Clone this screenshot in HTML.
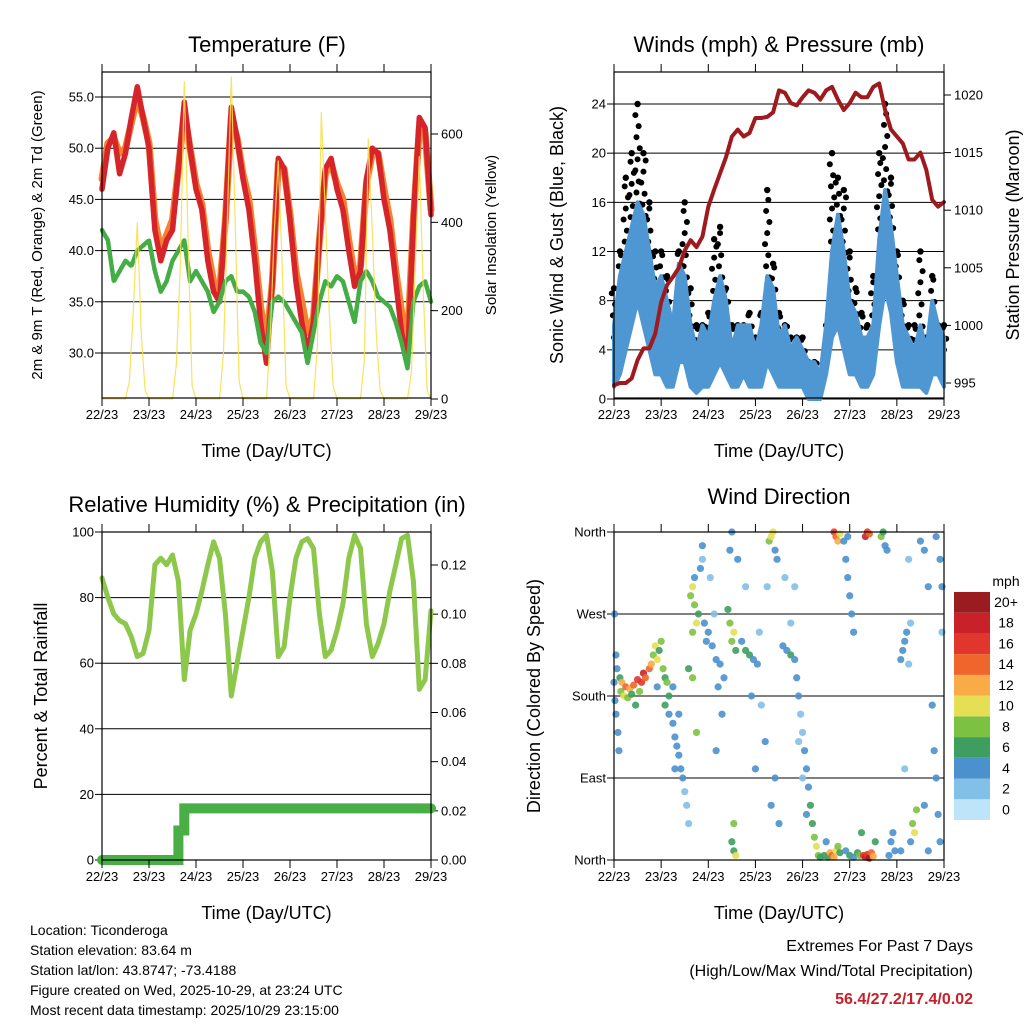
<!DOCTYPE html>
<html><head><meta charset="utf-8"><style>
html,body{margin:0;padding:0;background:#fff}
svg{display:block;font-family:"Liberation Sans",sans-serif}
</style></head><body>
<svg id="s" width="1024" height="1024" viewBox="0 0 1024 1024" xmlns="http://www.w3.org/2000/svg"></svg>
<script>
// ---- data (3-hourly, t = 0..168 h) ----
const dayLabels=["22/23","23/23","24/23","25/23","26/23","27/23","28/23","29/23"];
const temp2m=[46,50,51.5,47.5,49.5,53,56,53,50,42,39,41,42,48,54.5,50,46,44,39,36,35,43,54,51,47,44,39,33,29,37,49,48,43,37,33,30,33,41,48,49,46,44,40,36.5,38,47,50,49.5,45,42,37,32,29,43,53,52,43.5];
const temp9m=[47,50.5,51,49.5,50,52.5,55,53,50.5,43,40,41.5,43,48,53.5,50,46.5,44.5,40,37,36,43,53,51,47.5,45,40,34.5,31,37,48.5,48,43.5,38,35,32,33.5,41,47.5,48.5,46.5,45,41,37.5,38.5,46.5,49.5,49.5,46,43,38,34,31,43,52,51.5,44];
const dewpt=[42,41,37,38,39,38.5,40,40.5,41,38,36,37,39,40,41,37,38,37,36,34,35,37,37.5,36,36,35.5,34,31,30,35,35.5,35,34,33,32,29,32,35,37,36.5,37.5,37,35,33,37,38,37,35.5,35,34.5,33,31,28.5,35,36.5,37,35];
// solar, 2-hourly
const solar=[0,0,0,0,0,0,0,40,200,400,150,20,0,0,0,0,0,0,0,80,300,720,350,30,0,0,0,0,0,0,0,100,400,730,400,40,0,0,0,0,0,0,0,150,380,540,300,30,0,0,0,0,0,0,0,120,650,420,200,30,0,0,0,0,0,0,0,90,590,380,150,20,0,0,0,0,0,0,0,60,300,550,250,20,0];
const windHigh=[6,10,12,14,16,15,12,9,10,8,6,11,10,6,4,6,5,8,10,8,4,6,6,6,4,6,10,9,5,6,4,5,4,3,3,2,6,12,15,12,8,7,5,5,6,13,17,14,10,6,5,4,6,4,8,6,5];
const windLow=[1,2,4,6,8,6,4,2,2,1,1,3,3,1,0.5,1,1,2,3,2,1,1,2,1,1,1,3,2,1,1,1,1,1,0,0,0,2,5,6,4,2,2,1,1,2,6,9,7,3,1,1,1,1,0.5,2,2,1];
const gust=[9,12,18,20,24,20,16,12,12,10,6,12,16,9,6,6,7,13,14,9,6,6,6,7,5,7,17,11,7,6,5,5,5,3,3,2,6,20,18,17,12,9,7,6,10,20,24,18,12,8,6,6,12,5,10,6,6];
const pressure=[994.8,995,995,995.4,997,998,998,999.3,1002,1003.5,1004.2,1005,1006.5,1007.4,1006.8,1007.7,1010.3,1011.8,1013.2,1014.6,1016.4,1017,1016.4,1016.7,1018,1018,1018.1,1018.5,1020.4,1020.2,1019.3,1019.1,1019.8,1020.4,1020.2,1019.6,1020.4,1020.7,1019.6,1018.7,1019.3,1020.2,1019.8,1019.8,1020.7,1021,1018.7,1017,1016.4,1015.8,1014.4,1014.4,1015,1013.5,1010.9,1010.3,1010.7];
const rh=[86,80,75,73,72,68,62,63,70,90,92,90,93,85,55,70,75,82,90,97,92,75,50,60,70,80,92,97,99,88,62,65,80,92,97,98,95,75,62,64,70,78,92,99,95,72,62,66,72,82,90,98,99,85,52,55,76];
const precip=[0,0,0,0,0,0,0,0,0,0,0,0,0,0.012,0.021,0.021,0.021,0.021,0.021,0.021,0.021,0.021,0.021,0.021,0.021,0.021,0.021,0.021,0.021,0.021,0.021,0.021,0.021,0.021,0.021,0.021,0.021,0.021,0.021,0.021,0.021,0.021,0.021,0.021,0.021,0.021,0.021,0.021,0.021,0.021,0.021,0.021,0.021,0.021,0.021,0.021,0.021];
const dirT=[0,0.5,1,1.5,1,2,2.5,0.3,3,3.5,4,6,8,10,12,14,15,16,18,19,5,7,9,11,13,20,21,22,24,25,26,27,28,23,22,26,28,30,31,32,33,34,35,36,37,31,33,38,30,39,40,41,42,40,43,41,44,45,45,38,40,42,46,48,50,52,54,56,47,51,53,55,49,52,58,59,60,61,62,60,61,62,61,59,60,63,65,67,69,71,73,67,70,75,77,74,72,78,79,80,81,82,83,80,82,84,86,88,90,92,93,94,95,96,97,98,99,100,101,102,103,104,90,92,87,94,96,98,105,107,109,110,111,112,113,114,115,108,112,113,114,115,117,118,119,120,121,122,118,120,122,124,125,119,127,128,129,130,131,132,128,129,130,126,133,136,137,138,140,141,142,139,143,146,147,148,149,150,151,148,146,150,152,153,154,151,156,158,160,162,163,164,165,166,167,166,160,158,167,164];
const dirV=[195,175,160,210,225,140,120,270,200,185,195,190,188,192,198,195,205,200,210,215,180,178,182,170,185,225,235,220,240,210,200,195,180,230,190,170,160,150,135,125,115,100,90,75,60,100,160,40,190,290,300,280,260,250,270,310,320,345,330,210,200,140,260,250,235,220,215,200,240,270,190,160,310,120,275,260,240,250,230,20,10,5,40,340,360,330,240,230,225,220,215,300,180,170,130,250,100,300,350,355,360,340,330,60,90,40,235,230,225,220,200,180,160,140,120,100,80,60,40,25,15,5,260,300,310,130,90,50,3,5,3,8,5,3,10,15,8,20,360,355,350,358,350,330,310,290,270,250,10,5,3,8,5,355,5,3,6,2,8,4,355,360,358,30,20,355,360,345,5,20,30,340,10,220,230,240,250,215,260,100,10,330,40,30,55,20,350,340,300,170,120,90,50,20,300,330,10,60,250,355];
const dirS=[4,4,3,4,3,3,3,3,6,8,12,14,12,14,16,15,18,14,13,11,9,7,6,6,8,8,9,10,7,8,6,7,6,5,4,6,4,4,4,3,4,4,3,2,2,4,4,2,4,8,9,7,9,7,6,4,3,3,2,5,7,7,4,4,3,4,3,4,3,2,4,3,2,4,6,7,7,9,6,6,6,10,7,4,4,3,4,5,6,4,3,2,3,2,3,2,3,2,8,9,10,4,3,3,3,3,4,4,5,4,3,3,2,2,3,3,4,5,6,7,10,8,2,2,2,2,2,3,6,5,6,12,14,12,10,7,6,4,16,14,12,10,4,4,3,3,3,4,4,5,4,6,8,3,16,18,16,20,14,12,18,16,14,6,6,8,6,4,4,4,3,3,4,3,4,3,4,2,2,2,3,2,8,9,7,4,4,3,3,3,3,3,4,4,4,3,3,3,2,4];
const speedColors=["#bde4f8","#82c0e8","#4a91cd","#3d9e5f","#7dc143","#e4df55","#f8ab46","#ef652b","#e0362b","#c82129","#9b1c20"];
const cbLabels=["0","2","4","6","8","10","12","14","16","18","20+"];
const tempTicks=[30,35,40,45,50,55];
const solarTicks=[0,200,400,600];
const windTicks=[0,4,8,12,16,20,24];
const presTicks=[995,1000,1005,1010,1015,1020];
const rhTicks=[0,20,40,60,80,100];
const rainTicks=[0,0.02,0.04,0.06,0.08,0.10,0.12];
const dirTicks=[0,90,180,270,360];
const dirLabels=["North","East","South","West","North"];

const S=document.getElementById('s');const NS="http://www.w3.org/2000/svg";
function mk(tag,at,parent){const e=document.createElementNS(NS,tag);for(const k in at)e.setAttribute(k,at[k]);(parent||S).appendChild(e);return e;}
function txt(x,y,s,size,anchor,extra){const e=mk('text',Object.assign({x:x,y:y,'font-size':size,'text-anchor':anchor||'middle',fill:'#000'},extra||{}));e.textContent=s;return e;}
const hours=temp2m.map((_,i)=>i*3);
const solarHours=solar.map((_,i)=>i*2);

function panel(L,R,T,B){return {L,R,T,B,x:t=>L+t/168*(R-L)};}
function lin(d0,d1,p0,p1){return v=>p0+(v-d0)/(d1-d0)*(p1-p0);}
function frame(P,name){
  const r=mk('rect',{x:P.L,y:P.T,width:P.R-P.L,height:P.B-P.T,fill:'none',stroke:'#000','stroke-width':1.2});
  
  
  for(let d=0;d<8;d++){const x=P.L+d*(P.R-P.L)/7;
    const a=mk('line',{x1:x,x2:x,y1:P.B,y2:P.B+8,stroke:'#000','stroke-width':1});
    
    
    const b=mk('line',{x1:x,x2:x,y1:P.T,y2:P.T-8,stroke:'#000','stroke-width':1});
    
    
    const l=txt(x,P.B+21,dayLabels[d],13);
    
    
  }
  const xt=txt((P.L+P.R)/2,P.B+59,'Time (Day/UTC)',18);
  
  
}
function grid(P,ticks,sc,labels,name,fmt,side){
  ticks.forEach((v,i)=>{const y=sc(v);
    if(side!=='right'){
      const g=mk('line',{x1:P.L,x2:P.R,y1:y,y2:y,stroke:'#000','stroke-width':1});
      
      
      const t=mk('line',{x1:P.L-7,x2:P.L,y1:y,y2:y,stroke:'#000'});
      
      
      const l=txt(P.L-8,y+4.5,labels?labels[i]:fmt(v),13,'end');
      
      
    } else {
      const t=mk('line',{x1:P.R,x2:P.R+7,y1:y,y2:y,stroke:'#000'});
      
      
      const l=txt(P.R+10,y+4.5,fmt(v),13,'start');
      
      
    }
  });
}
function poly(xs,ys,st,name){const d=xs.map((x,i)=>(i?'L':'M')+x.toFixed(1)+' '+ys[i].toFixed(1)).join('');
  const p=mk('path',Object.assign({d:d,fill:'none','stroke-linejoin':'round','stroke-linecap':'round'},st));
  
  return p;}
function vtitle(x,y,s,size,name){const e=txt(x,y,s,size,'middle',{transform:'rotate(-90 '+x+' '+y+')'});
  
  }
function title(x,y,s,name){const e=txt(x,y,s,22);
  
  }

// ---- Temperature ----
const P1=panel(102,431,72,398);
const yT=lin(30,55,353,97), yS=lin(0,600,399,134);
grid(P1,tempTicks,yT,null,'temp',v=>v.toFixed(1));
grid(P1,solarTicks,yS,null,'solar',v=>String(v),'right');
poly(hours.map(P1.x),temp9m.map(yT),{stroke:'#f4822f','stroke-width':7},'temp-9m-line');
poly(hours.map(P1.x),temp2m.map(yT),{stroke:'#d6252a','stroke-width':5.5},'temp-2m-line');
poly(hours.map(P1.x),dewpt.map(yT),{stroke:'#45ad45','stroke-width':4.5,'stroke-dasharray':'3 1.5'},'dewpoint-line');
poly(solarHours.map(P1.x),solar.map(yS),{stroke:'#f9df4a','stroke-width':1.2,opacity:0.9,'stroke-linejoin':'miter'},'solar-line');
frame(P1,'temp');
title(267,52,'Temperature (F)','temp-title');
vtitle(42,235,'2m & 9m T (Red, Orange) & 2m Td (Green)',15,'temp-y-axis-title');
vtitle(496,235,'Solar Insolation (Yellow)',15,'solar-y-axis-title');

// ---- Winds ----
const P2=panel(614,944,72,398);
const yW=lin(0,24,399,104), yP=lin(995,1020,383,95);
grid(P2,windTicks,yW,null,'wind',v=>String(v));
grid(P2,presTicks,yP,null,'pressure',v=>String(v),'right');
{// gust dots: columns from sustained-wind top up to the gust maximum
 hours.forEach((t,i)=>{const x0=P2.x(t);let n=0;
  for(let v=windHigh[i]-1;v<=gust[i];v+=0.9){n++;
   const off=((n*7)%5-2)*1.1;
   const c=mk('circle',{cx:x0+off,cy:yW(Math.min(v,gust[i])),r:3,fill:'#000'});
   
   }
  const c=mk('circle',{cx:x0,cy:yW(gust[i]),r:3.2,fill:'#000'});
  
  });
 const xs=hours.map(P2.x);
 const d2='M'+xs.map((x,i)=>x.toFixed(1)+' '+yW(windHigh[i]).toFixed(1)).join('L')+'L'+xs.map((x,i)=>x.toFixed(1)+' '+yW(windLow[i]).toFixed(1)).reverse().join('L')+'Z';
 const w=mk('path',{d:d2,fill:'#4f97d2',stroke:'#4f97d2','stroke-width':4,'stroke-linejoin':'round'});
 
 }
poly(hours.map(P2.x),pressure.map(yP),{stroke:'#9e1a1e','stroke-width':4},'pressure-line');
frame(P2,'wind');
title(779,52,'Winds (mph) & Pressure (mb)','wind-title');
vtitle(563,235,'Sonic Wind & Gust (Blue, Black)',18,'wind-y-axis-title');
vtitle(1019,235,'Station Pressure (Maroon)',18,'pressure-y-axis-title');

// ---- RH ----
const P3=panel(102,431,532,860);
const yR=lin(0,100,860,532), yRain=lin(0,0.12,860,565);
grid(P3,rhTicks,yR,null,'rh',v=>String(v));
grid(P3,rainTicks,yRain,null,'rain',v=>v.toFixed(2),'right');
poly(hours.map(P3.x),rh.map(yR),{stroke:'#8dc84c','stroke-width':5},'rh-line');
{const xs=[],ys=[];hours.forEach((t,i)=>{if(i>0){xs.push(P3.x(t));ys.push(yRain(precip[i-1]));}xs.push(P3.x(t));ys.push(yRain(precip[i]));});
 poly(xs,ys,{stroke:'#48ae45','stroke-width':10,'stroke-linejoin':'miter','stroke-linecap':'round'},'precip-line');}
frame(P3,'rh');
title(267,512,'Relative Humidity (%) & Precipitation (in)','rh-title');
vtitle(47,696,'Percent & Total Rainfall',18,'rh-y-axis-title');

// ---- Wind direction ----
const P4=panel(614,944,532,860);
const yD=lin(0,360,860,532);
grid(P4,dirTicks,yD,dirLabels,'dir');
dirT.forEach((t,i)=>{const k=Math.min(10,Math.round(dirS[i]/2));
  const c=mk('circle',{cx:P4.x(t),cy:yD(dirV[i]),r:3.6,fill:speedColors[k],opacity:0.9});
  
  });
frame(P4,'dir');
title(779,504,'Wind Direction','dir-title');
vtitle(540,696,'Direction (Colored By Speed)',18,'dir-y-axis-title');
// colorbar
speedColors.forEach((c,i)=>{const y=820-(i+1)*20.73;
  const r=mk('rect',{x:954,y:y,width:36,height:20.73,fill:c});
  
  
  const l=txt(1006,y+15,cbLabels[i],14);
  
  });
{const l=txt(1006,586,'mph',14);
 
 }

// ---- footer ----
["Location: Ticonderoga","Station elevation: 83.64 m","Station lat/lon: 43.8747; -73.4188","Figure created on Wed, 2025-10-29, at 23:24 UTC","Most recent data timestamp: 2025/10/29 23:15:00"].forEach((s,i)=>{
  const e=txt(30,935+i*20,s,14,'start');
  
  });
{let e=txt(973,951,'Extremes For Past 7 Days',16,'end');
 
 
 e=txt(973,976,'(High/Low/Max Wind/Total Precipitation)',16,'end');
 
 
 e=txt(973,1004,'56.4/27.2/17.4/0.02',16,'end',{fill:'#c8202a','font-weight':'bold'});
 
 }
</script>
</body></html>
